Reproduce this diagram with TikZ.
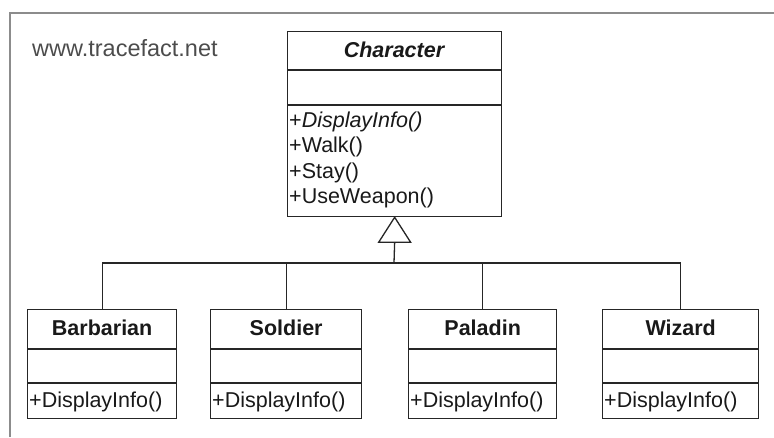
\documentclass[tikz,border=0pt]{standalone}
\usepackage{fontspec}
\setmainfont{Liberation Sans}
\usetikzlibrary{calc}

% a derived class: name, left x, width, class label
\newcommand{\derivedclass}[4]{%
  \node[classbox,minimum width=#3pt,minimum height=109pt] (#1) at (#2,309) {};
  \draw[edge] (#2,349) -- ++(#3,0);
  \draw[edge] (#2,383) -- ++(#3,0);
  \node[cname] (#1name) at ($(#1.north)+(0,26)$) {#4};
  \node[member] (#1op) at (#2+2,407) {+DisplayInfo()};
}

\begin{document}
\begin{tikzpicture}[x=1pt,y=-1pt,
  edge/.style={draw=black!85,line width=1.3pt},
  classbox/.style={edge,rectangle,inner sep=0pt,anchor=north west,fill=white},
  cname/.style={font=\fontsize{21.5}{25}\selectfont\bfseries,anchor=base,inner sep=0pt,text=black!90},
  member/.style={font=\fontsize{21.5}{25}\selectfont,anchor=base west,inner sep=0pt,text=black!90},
  frameline/.style={draw=black!45,line width=1.2pt}]
\useasboundingbox (0,0) rectangle (774,437);

% diagram frame
\draw[frameline] (10,437) |- (774,13);
\node[font=\fontsize{23.5}{26}\selectfont,anchor=base west,inner sep=0pt,text=black!70] (site) at (32,56.5) {www.tracefact.net};

% abstract base class
\node[classbox,minimum width=214pt,minimum height=185pt] (char) at (287,31) {};
\draw[edge] (287,70) -- (501,70);
\draw[edge] (287,105) -- (501,105);
\node[cname,font=\fontsize{21.5}{25}\selectfont\bfseries\itshape] (charname) at (394,57) {Character};
\node[member] (m1) at (289,127) {+\textit{DisplayInfo()}};
\node[member] (m2) at (289,152.5) {+Walk()};
\node[member] (m3) at (289,178) {+Stay()};
\node[member] (m4) at (289,203.5) {+UseWeapon()};

% derived classes
\derivedclass{barb}{27}{149}{Barbarian}
\derivedclass{sold}{210}{151}{Soldier}
\derivedclass{pal}{408}{148}{Paladin}
\derivedclass{wiz}{602}{156}{Wizard}

% generalization tree with hollow triangle head
\coordinate (bus) at (394,263);
\coordinate (tribase) at ($(char.south)+(0,25)$);
\draw[edge] (barb.north) |- (bus) -| (wiz.north);
\draw[edge] (sold.north) |- (bus);
\draw[edge] (pal.north) |- (bus);
\draw[edge] (bus) -- (tribase);
\draw[edge,line join=miter,fill=white] (char.south) -- ($(tribase)+(-16,0)$) -- ($(tribase)+(16,0)$) -- cycle;
\end{tikzpicture}
\end{document}
